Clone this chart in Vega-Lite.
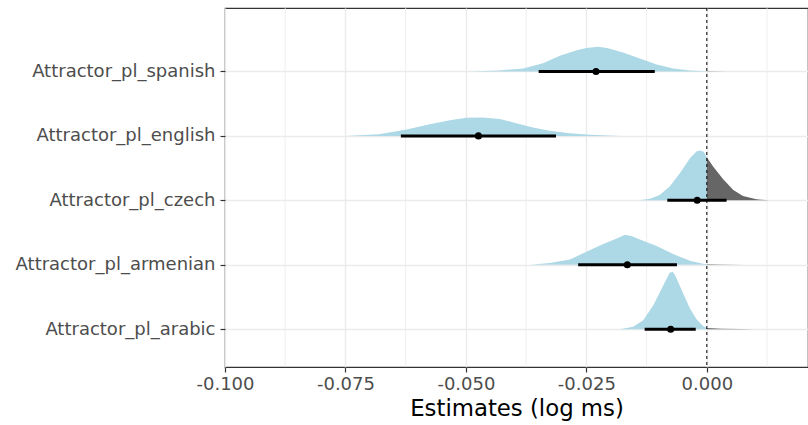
{
  "$schema": "https://vega.github.io/schema/vega-lite/v6.json",
  "width": 583,
  "height": 359,
  "autosize": "none",
  "padding": {"left": 225, "top": 8, "right": 0, "bottom": 58},
  "background": "white",
  "config": {
    "font": "DejaVu Sans",
    "view": {"stroke": "#333333", "strokeWidth": 1.2}
  },
  "datasets": {
    "dens": [
      {"term": "spanish", "k": 5, "part": "neg", "x": -0.0492, "top": 5.000},
      {"term": "spanish", "k": 5, "part": "neg", "x": -0.043, "top": 5.016},
      {"term": "spanish", "k": 5, "part": "neg", "x": -0.0381, "top": 5.047},
      {"term": "spanish", "k": 5, "part": "neg", "x": -0.034, "top": 5.129},
      {"term": "spanish", "k": 5, "part": "neg", "x": -0.0305, "top": 5.244},
      {"term": "spanish", "k": 5, "part": "neg", "x": -0.027, "top": 5.331},
      {"term": "spanish", "k": 5, "part": "neg", "x": -0.025, "top": 5.365},
      {"term": "spanish", "k": 5, "part": "neg", "x": -0.0225, "top": 5.384},
      {"term": "spanish", "k": 5, "part": "neg", "x": -0.0205, "top": 5.362},
      {"term": "spanish", "k": 5, "part": "neg", "x": -0.0174, "top": 5.295},
      {"term": "spanish", "k": 5, "part": "neg", "x": -0.0139, "top": 5.202},
      {"term": "spanish", "k": 5, "part": "neg", "x": -0.0104, "top": 5.109},
      {"term": "spanish", "k": 5, "part": "neg", "x": -0.007, "top": 5.047},
      {"term": "spanish", "k": 5, "part": "neg", "x": -0.0035, "top": 5.016},
      {"term": "spanish", "k": 5, "part": "neg", "x": 0.0, "top": 5.005},
      {"term": "spanish", "k": 5, "part": "pos", "x": 0.0, "top": 5.005},
      {"term": "spanish", "k": 5, "part": "pos", "x": 0.004, "top": 5.0},

      {"term": "english", "k": 4, "part": "neg", "x": -0.075, "top": 4.0},
      {"term": "english", "k": 4, "part": "neg", "x": -0.068, "top": 4.026},
      {"term": "english", "k": 4, "part": "neg", "x": -0.0623, "top": 4.098},
      {"term": "english", "k": 4, "part": "neg", "x": -0.0575, "top": 4.182},
      {"term": "english", "k": 4, "part": "neg", "x": -0.0533, "top": 4.244},
      {"term": "english", "k": 4, "part": "neg", "x": -0.0499, "top": 4.28},
      {"term": "english", "k": 4, "part": "neg", "x": -0.0465, "top": 4.285},
      {"term": "english", "k": 4, "part": "neg", "x": -0.043, "top": 4.264},
      {"term": "english", "k": 4, "part": "neg", "x": -0.0395, "top": 4.198},
      {"term": "english", "k": 4, "part": "neg", "x": -0.0361, "top": 4.129},
      {"term": "english", "k": 4, "part": "neg", "x": -0.0326, "top": 4.078},
      {"term": "english", "k": 4, "part": "neg", "x": -0.0284, "top": 4.042},
      {"term": "english", "k": 4, "part": "neg", "x": -0.0243, "top": 4.016},
      {"term": "english", "k": 4, "part": "neg", "x": -0.018, "top": 4.0},

      {"term": "czech", "k": 3, "part": "neg", "x": -0.0139, "top": 3.0},
      {"term": "czech", "k": 3, "part": "neg", "x": -0.0118, "top": 3.026},
      {"term": "czech", "k": 3, "part": "neg", "x": -0.0098, "top": 3.082},
      {"term": "czech", "k": 3, "part": "neg", "x": -0.0077, "top": 3.213},
      {"term": "czech", "k": 3, "part": "neg", "x": -0.0056, "top": 3.42},
      {"term": "czech", "k": 3, "part": "neg", "x": -0.0035, "top": 3.653},
      {"term": "czech", "k": 3, "part": "neg", "x": -0.0021, "top": 3.76},
      {"term": "czech", "k": 3, "part": "neg", "x": -0.0013, "top": 3.773},
      {"term": "czech", "k": 3, "part": "neg", "x": -0.0006, "top": 3.75},
      {"term": "czech", "k": 3, "part": "neg", "x": 0.0, "top": 3.669},
      {"term": "czech", "k": 3, "part": "pos", "x": 0.0, "top": 3.669},
      {"term": "czech", "k": 3, "part": "pos", "x": 0.0013, "top": 3.524},
      {"term": "czech", "k": 3, "part": "pos", "x": 0.0034, "top": 3.327},
      {"term": "czech", "k": 3, "part": "pos", "x": 0.0055, "top": 3.16},
      {"term": "czech", "k": 3, "part": "pos", "x": 0.0075, "top": 3.067},
      {"term": "czech", "k": 3, "part": "pos", "x": 0.0103, "top": 3.016},
      {"term": "czech", "k": 3, "part": "pos", "x": 0.013, "top": 3.0},

      {"term": "armenian", "k": 2, "part": "neg", "x": -0.0367, "top": 2.0},
      {"term": "armenian", "k": 2, "part": "neg", "x": -0.0326, "top": 2.026},
      {"term": "armenian", "k": 2, "part": "neg", "x": -0.0284, "top": 2.082},
      {"term": "armenian", "k": 2, "part": "neg", "x": -0.025, "top": 2.202},
      {"term": "armenian", "k": 2, "part": "neg", "x": -0.0215, "top": 2.322},
      {"term": "armenian", "k": 2, "part": "neg", "x": -0.0187, "top": 2.409},
      {"term": "armenian", "k": 2, "part": "neg", "x": -0.017, "top": 2.467},
      {"term": "armenian", "k": 2, "part": "neg", "x": -0.0155, "top": 2.443},
      {"term": "armenian", "k": 2, "part": "neg", "x": -0.0139, "top": 2.393},
      {"term": "armenian", "k": 2, "part": "neg", "x": -0.0104, "top": 2.291},
      {"term": "armenian", "k": 2, "part": "neg", "x": -0.007, "top": 2.166},
      {"term": "armenian", "k": 2, "part": "neg", "x": -0.0035, "top": 2.062},
      {"term": "armenian", "k": 2, "part": "neg", "x": -0.0008, "top": 2.016},
      {"term": "armenian", "k": 2, "part": "neg", "x": 0.0, "top": 2.008},
      {"term": "armenian", "k": 2, "part": "pos", "x": 0.0, "top": 2.008},
      {"term": "armenian", "k": 2, "part": "pos", "x": 0.003, "top": 2.003},
      {"term": "armenian", "k": 2, "part": "pos", "x": 0.008, "top": 2.0},

      {"term": "arabic", "k": 1, "part": "neg", "x": -0.018, "top": 1.0},
      {"term": "arabic", "k": 1, "part": "neg", "x": -0.0153, "top": 1.036},
      {"term": "arabic", "k": 1, "part": "neg", "x": -0.0132, "top": 1.14},
      {"term": "arabic", "k": 1, "part": "neg", "x": -0.0111, "top": 1.373},
      {"term": "arabic", "k": 1, "part": "neg", "x": -0.009, "top": 1.684},
      {"term": "arabic", "k": 1, "part": "neg", "x": -0.0077, "top": 1.876},
      {"term": "arabic", "k": 1, "part": "neg", "x": -0.0071, "top": 1.891},
      {"term": "arabic", "k": 1, "part": "neg", "x": -0.0066, "top": 1.84},
      {"term": "arabic", "k": 1, "part": "neg", "x": -0.0049, "top": 1.555},
      {"term": "arabic", "k": 1, "part": "neg", "x": -0.0035, "top": 1.322},
      {"term": "arabic", "k": 1, "part": "neg", "x": -0.0021, "top": 1.151},
      {"term": "arabic", "k": 1, "part": "neg", "x": -0.0008, "top": 1.051},
      {"term": "arabic", "k": 1, "part": "neg", "x": 0.0, "top": 1.02},
      {"term": "arabic", "k": 1, "part": "pos", "x": 0.0, "top": 1.02},
      {"term": "arabic", "k": 1, "part": "pos", "x": 0.003, "top": 1.006},
      {"term": "arabic", "k": 1, "part": "pos", "x": 0.007, "top": 1.002},
      {"term": "arabic", "k": 1, "part": "pos", "x": 0.01, "top": 1.0}
    ],
    "est": [
      {"term": "spanish", "k": 5, "est": -0.023, "lo": -0.0349, "hi": -0.0108},
      {"term": "english", "k": 4, "est": -0.0474, "lo": -0.0635, "hi": -0.0313},
      {"term": "czech", "k": 3, "est": -0.002, "lo": -0.0082, "hi": 0.0041},
      {"term": "armenian", "k": 2, "est": -0.0165, "lo": -0.0267, "hi": -0.0062},
      {"term": "arabic", "k": 1, "est": -0.0075, "lo": -0.0129, "hi": -0.0023}
    ],
    "minor": [
      {"g": -0.0875}, {"g": -0.0625}, {"g": -0.0375}, {"g": -0.0125}, {"g": 0.0125}
    ]
  },
  "layer": [
    {
      "data": {"name": "minor"},
      "mark": {"type": "rule", "color": "#EBEBEB", "strokeWidth": 0.8},
      "encoding": {
        "x": {"field": "g", "type": "quantitative"}
      }
    },
    {
      "data": {"name": "dens"},
      "mark": {"type": "area", "opacity": 1, "clip": true},
      "encoding": {
        "x": {
          "field": "x", "type": "quantitative",
          "scale": {"domain": [-0.1, 0.021], "nice": false, "zero": false},
          "axis": {
            "values": [-0.1, -0.075, -0.05, -0.025, 0],
            "labelExpr": "replace(format(datum.value, '.3f'), '\u2212', '-')",
            "labelFlush": false,
            "labelFontSize": 18,
            "labelColor": "#4D4D4D",
            "labelPadding": 3,
            "tickColor": "#333333",
            "tickSize": 5,
            "tickWidth": 1.2,
            "domain": false,
            "grid": true,
            "gridColor": "#EBEBEB",
            "gridWidth": 1.4,
            "title": "Estimates (log ms)",
            "titleFontSize": 22.8,
            "titleFontWeight": "normal",
            "titleColor": "#000000",
            "titlePadding": 4
          }
        },
        "y": {
          "field": "top", "type": "quantitative",
          "scale": {"domain": [0.413, 5.985], "nice": false, "zero": false},
          "axis": {
            "values": [1, 2, 3, 4, 5],
            "labelExpr": "['', 'Attractor_pl_arabic', 'Attractor_pl_armenian', 'Attractor_pl_czech', 'Attractor_pl_english', 'Attractor_pl_spanish'][datum.value]",
            "labelFontSize": 18,
            "labelLimit": 0,
            "labelColor": "#4D4D4D",
            "labelPadding": 5,
            "tickColor": "#333333",
            "tickSize": 5,
            "tickWidth": 1.2,
            "domain": false,
            "grid": true,
            "gridColor": "#EBEBEB",
            "gridWidth": 1.4,
            "title": null
          }
        },
        "y2": {"field": "k"},
        "color": {
          "field": "part", "type": "nominal",
          "scale": {"domain": ["neg", "pos"], "range": ["#ADD8E6", "#666666"]},
          "legend": null
        },
        "detail": {"field": "term"}
      }
    },
    {
      "data": {"values": [{"z": 0}]},
      "mark": {"type": "rule", "color": "#000000", "strokeWidth": 1, "strokeDash": [3, 3]},
      "encoding": {
        "x": {"field": "z", "type": "quantitative"}
      }
    },
    {
      "data": {"name": "est"},
      "mark": {"type": "rule", "color": "#000000", "strokeWidth": 3},
      "encoding": {
        "x": {"field": "lo", "type": "quantitative"},
        "x2": {"field": "hi"},
        "y": {"field": "k", "type": "quantitative"}
      }
    },
    {
      "data": {"name": "est"},
      "mark": {"type": "point", "filled": true, "color": "#000000", "opacity": 1, "size": 50},
      "encoding": {
        "x": {"field": "est", "type": "quantitative"},
        "y": {"field": "k", "type": "quantitative"}
      }
    }
  ]
}
